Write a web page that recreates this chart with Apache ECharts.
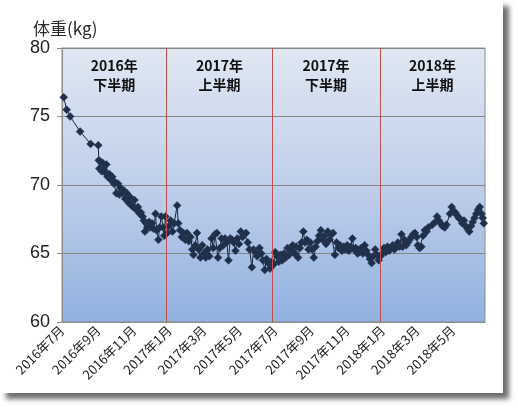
<!DOCTYPE html>
<html>
<head>
<meta charset="utf-8">
<script src="https://cdn.jsdelivr.net/npm/echarts@6/dist/echarts.min.js"></script>
<style>
  html, body { margin: 0; padding: 0; background: #ffffff; }
  #card { position: absolute; left: 0; top: 0; width: 503px; height: 393px; background: #ffffff; box-shadow: 6px 6px 5px #6f6f6f; }
  #chart { position: absolute; left: 0; top: 0; width: 518px; height: 410px; }
</style>
</head>
<body>
<div id="card"></div>
<div id="chart"></div>
<script>
// ---- data ----
const dates = [
'2016-07-09','2016-07-14','2016-07-20','2016-08-06','2016-08-24','2016-09-06','2016-09-07','2016-09-08','2016-09-10','2016-09-12',
'2016-09-14','2016-09-16','2016-09-18','2016-09-20','2016-09-22','2016-09-25','2016-09-27','2016-09-30','2016-10-03','2016-10-05',
'2016-10-07','2016-10-10','2016-10-12','2016-10-14','2016-10-17','2016-10-20','2016-10-22','2016-10-25','2016-10-28','2016-10-31',
'2016-11-02','2016-11-05','2016-11-07','2016-11-10','2016-11-13','2016-11-16','2016-11-18','2016-11-21','2016-11-23','2016-11-25',
'2016-11-27','2016-11-29','2016-12-02','2016-12-04','2016-12-07','2016-12-10','2016-12-13','2016-12-15','2016-12-18','2016-12-20',
'2016-12-23','2016-12-26','2016-12-28','2016-12-30','2017-01-02','2017-01-05','2017-01-08','2017-01-11','2017-01-14','2017-01-19',
'2017-01-21','2017-01-24','2017-01-27','2017-01-30','2017-02-02','2017-02-05','2017-02-08','2017-02-11','2017-02-14','2017-02-16',
'2017-02-19','2017-02-22','2017-02-25','2017-02-28','2017-03-03','2017-03-06','2017-03-09','2017-03-12','2017-03-15','2017-03-19',
'2017-03-22','2017-03-25','2017-03-28','2017-03-30','2017-04-02','2017-04-05','2017-04-08','2017-04-11','2017-04-14','2017-04-17',
'2017-04-20','2017-04-23','2017-04-26','2017-04-29','2017-05-02','2017-05-05','2017-05-08','2017-05-11','2017-05-14','2017-05-17',
'2017-05-20','2017-05-23','2017-05-27','2017-05-30','2017-06-02','2017-06-05','2017-06-09','2017-06-12','2017-06-15','2017-06-18',
'2017-06-21','2017-06-24','2017-06-27','2017-06-30','2017-07-03','2017-07-06','2017-07-09','2017-07-12','2017-07-15','2017-07-18',
'2017-07-21','2017-07-24','2017-07-27','2017-07-30','2017-08-02','2017-08-05','2017-08-08','2017-08-11','2017-08-14','2017-08-17',
'2017-08-20','2017-08-23','2017-08-26','2017-08-29','2017-09-01','2017-09-04','2017-09-07','2017-09-10','2017-09-13','2017-09-16',
'2017-09-19','2017-09-22','2017-09-25','2017-09-28','2017-10-01','2017-10-04','2017-10-07','2017-10-10','2017-10-13','2017-10-16',
'2017-10-19','2017-10-22','2017-10-25','2017-10-28','2017-10-31','2017-11-03','2017-11-06','2017-11-09','2017-11-12','2017-11-15',
'2017-11-18','2017-11-21','2017-11-24','2017-11-27','2017-11-30','2017-12-03','2017-12-06','2017-12-09','2017-12-12','2017-12-15',
'2017-12-18','2017-12-21','2017-12-24','2017-12-27','2017-12-30','2018-01-02','2018-01-05','2018-01-08','2018-01-11','2018-01-14',
'2018-01-17','2018-01-20','2018-01-23','2018-01-26','2018-01-29','2018-02-01','2018-02-04','2018-02-07','2018-02-09','2018-02-12',
'2018-02-15','2018-02-18','2018-02-21','2018-02-24','2018-02-27','2018-03-02','2018-03-05','2018-03-07','2018-03-10','2018-03-13',
'2018-03-16','2018-03-19','2018-03-22','2018-03-25','2018-04-01','2018-04-06','2018-04-09','2018-04-12','2018-04-15','2018-04-18',
'2018-04-22','2018-04-25','2018-05-01','2018-05-04','2018-05-07','2018-05-10','2018-05-13','2018-05-16','2018-05-19','2018-05-22',
'2018-05-25','2018-05-28','2018-05-31','2018-06-03','2018-06-06','2018-06-09','2018-06-12','2018-06-15','2018-06-18','2018-06-21',
'2018-06-24','2018-06-26','2018-06-28'
];
const weights = [
76.4,75.5,75.0,73.9,73.0,72.9,71.8,71.2,71.7,71.0,
71.6,71.1,70.9,71.5,70.6,70.8,70.4,70.6,70.1,70.2,
69.4,70.1,69.3,69.8,69.4,69.6,69.0,69.4,68.7,69.1,
68.5,68.4,68.9,68.2,68.4,67.9,68.0,67.7,67.4,66.6,
67.2,66.9,67.3,66.9,67.2,66.8,67.9,66.7,66.0,66.9,
67.7,66.9,66.3,67.7,66.5,67.0,67.4,66.6,67.2,68.5,
67.2,66.7,66.2,66.5,66.0,66.5,65.9,66.2,65.3,64.9,
65.6,66.5,65.3,64.7,65.6,65.0,64.7,65.3,64.8,66.1,
65.4,66.4,66.5,64.7,65.4,66.1,65.6,66.1,65.8,64.5,
66.1,66.0,65.8,65.2,66.1,65.7,66.6,66.2,66.4,66.5,
65.8,65.3,64.0,65.3,65.1,64.8,65.4,65.0,64.5,63.8,
64.6,64.3,63.9,64.4,64.2,65.1,64.8,64.4,64.9,64.5,
65.0,64.7,65.4,64.9,65.3,65.6,65.0,65.5,64.7,65.4,
65.8,66.6,65.8,66.0,65.3,65.8,65.3,64.7,65.5,65.9,
66.3,66.7,66.0,66.3,65.7,66.6,66.0,66.4,66.5,64.9,
65.8,65.4,65.6,65.2,65.5,65.3,65.6,65.2,65.5,66.1,
65.3,65.4,65.0,65.1,65.4,65.0,65.6,65.2,64.9,64.6,
64.3,64.8,65.3,64.9,64.5,64.8,65.0,65.4,65.1,65.5,
65.2,65.4,65.6,65.3,65.5,65.8,65.5,66.4,65.5,66.0,
65.6,65.8,66.0,66.2,66.4,66.5,66.2,65.6,65.4,65.5,
66.3,66.7,66.6,66.9,67.1,67.3,67.7,67.4,67.2,67.0,
66.9,67.1,67.9,68.4,68.1,68.0,67.8,67.6,67.5,67.2,
67.4,67.0,66.8,66.6,67.0,67.3,67.6,67.9,68.2,68.4,
67.9,67.6,67.2
];
const tickDates = ['2016-07-06','2016-09-06','2016-11-06','2017-01-06','2017-03-06','2017-05-06',
                   '2017-07-06','2017-09-06','2017-11-06','2018-01-06','2018-03-06','2018-05-06'];
const periodStarts = ['2016-07-06','2017-01-01','2017-07-01','2018-01-01'];
const periodEnds   = ['2017-01-01','2017-07-01','2018-01-01','2018-06-30'];
const periodLabels = ['2016年\n下半期','2017年\n上半期','2017年\n下半期','2018年\n上半期'];
const dividers = ['2017-01-01','2017-07-01','2018-01-01'];
const axisMin = '2016-07-06', axisMax = '2018-06-30';
const yMin = 60, yMax = 80, yStep = 5;

// ---- chart ----
const ts = s => Date.UTC(+s.slice(0, 4), +s.slice(5, 7) - 1, +s.slice(8, 10));
const seriesData = dates.map((d, i) => [ts(d), weights[i]]);
const chart = echarts.init(document.getElementById('chart'), null, {renderer: 'canvas'});
chart.setOption({
  animation: false,
  title: {
    text: '体重(kg)', left: 28, top: 15,
    textStyle: {fontSize: 17, fontWeight: 'normal', color: '#2a2a2a', fontFamily: 'Noto Sans CJK JP'}
  },
  grid: {
    left: 62, right: 33, top: 48, bottom: 88, show: true, borderColor: '#8c8c8c', borderWidth: 1,
    backgroundColor: new echarts.graphic.LinearGradient(0, 0, 0, 1, [
      {offset: 0, color: '#e0e7f2'},
      {offset: 0.5, color: '#bfcfea'},
      {offset: 1, color: '#92b1e0'}
    ])
  },
  xAxis: {
    type: 'value', min: ts(axisMin), max: ts(axisMax),
    axisLine: {show: true, lineStyle: {color: '#8c8c8c'}},
    axisTick: {show: false},
    splitLine: {show: false},
    axisLabel: {
      customValues: tickDates.map(ts),
      rotate: 45, margin: 6, fontSize: 13, color: '#222', fontFamily: 'Noto Sans CJK JP',
      formatter: v => { const d = new Date(v); return d.getUTCFullYear() + '年' + (d.getUTCMonth() + 1) + '月'; }
    }
  },
  yAxis: {
    type: 'value', min: yMin, max: yMax, interval: yStep,
    axisLine: {show: true, lineStyle: {color: '#8c8c8c'}},
    axisTick: {show: true, length: 5, lineStyle: {color: '#8c8c8c'}},
    splitLine: {show: true, lineStyle: {color: '#858585', width: 1}},
    axisLabel: {fontSize: 18, color: '#222', margin: 12, fontFamily: 'Liberation Sans'}
  },
  series: [
    {
      type: 'line', name: 'periods', data: [], z: 1, silent: true,
      markArea: {
        silent: true,
        itemStyle: {color: 'rgba(0,0,0,0)'},
        label: {
          show: true, position: 'insideTop', distance: 8, formatter: '{b}',
          fontSize: 14, fontWeight: 'bold', color: '#111', lineHeight: 19, fontFamily: 'Noto Sans CJK JP'
        },
        data: periodLabels.map((lab, i) => [{name: lab, xAxis: ts(periodStarts[i])}, {xAxis: ts(periodEnds[i])}])
      },
      markLine: {
        silent: true, symbol: ['none', 'none'],
        label: {show: false},
        lineStyle: {color: '#c0504d', width: 1, type: 'solid'},
        data: dividers.map(d => ({xAxis: ts(d)}))
      }
    },
    {
      type: 'line', name: '体重', data: seriesData, z: 3,
      symbol: 'diamond', symbolSize: 8, showAllSymbol: true,
      lineStyle: {color: '#1a2638', width: 1},
      itemStyle: {color: '#1f2f4a', borderColor: '#2c3e5c', borderWidth: 0.5}
    }
  ]
});
</script>
</body>
</html>
